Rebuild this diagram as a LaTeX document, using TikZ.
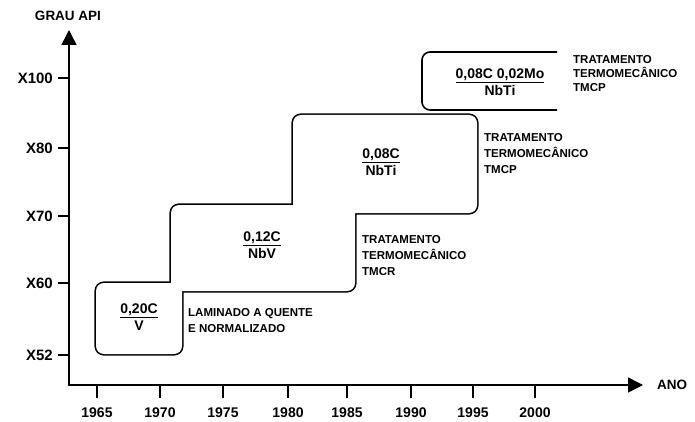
\documentclass[tikz,border=0pt]{standalone}
\usepackage{fontspec}
\setmainfont{Liberation Sans}
\usetikzlibrary{arrows.meta}
\tikzset{
  axisline/.style={line width=1.5pt, {Triangle[length=15pt,width=15pt]}-{Triangle[length=15pt,width=15pt]}},
  tickline/.style={line width=1.5pt},
  boxouter/.style={line width=3.2pt, rounded corners=8pt},
  boxfill/.style={fill=white, rounded corners=8pt},
  openbox/.style={line width=1.6pt, rounded corners=8pt},
  axlab/.style={inner sep=0pt, font=\fontsize{15}{17}\selectfont\bfseries},
  yearlab/.style={inner sep=0pt, font=\fontsize{14}{16}\selectfont\bfseries},
  boxtxt/.style={inner sep=0pt, align=center, font=\fontsize{14}{17}\selectfont\bfseries},
  sidetxt/.style={inner sep=0pt, anchor=west, align=left, font=\fontsize{11.5}{16}\selectfont\bfseries},
  sidetxtb/.style={inner sep=0pt, anchor=west, align=left, font=\fontsize{11.5}{14}\selectfont\bfseries},
}
\begin{document}
\begin{tikzpicture}[x=1pt,y=-1pt]
\useasboundingbox (0,0) rectangle (695,422);
% axes
\coordinate (o) at (69,385);
\coordinate (ytip) at (69,30);
\coordinate (xtip) at (643,385);
\draw[axisline] (ytip) -- (o) -- (xtip);
\node[axlab, font=\fontsize{13.5}{16}\selectfont\bfseries] (grau) at (68,16) {GRAU API};
\node[axlab, anchor=west, font=\fontsize{13.5}{16}\selectfont\bfseries] (ano) at (657,385) {ANO};
% y ticks
\foreach \yy/\lab/\nm in {78/X100/ya, 148/X80/yb, 216/X70/yc, 283/X60/yd, 355/X52/ye}{
  \coordinate (\nm) at (69,\yy);
  \draw[tickline] (\nm) -- ++(-11,0);
  \node[axlab, anchor=east] (\nm l) at (53,\yy) {\lab};
}
% x ticks
\foreach \xx/\lab/\nm in {97/1965/xa, 160/1970/xb, 223/1975/xc, 288/1980/xd, 347/1985/xe, 411/1990/xf, 473/1995/xg, 535/2000/xh}{
  \coordinate (\nm) at (\xx,385);
  \draw[tickline] (\nm) -- ++(0,13);
  \node[yearlab] (\nm l) at (\xx,413) {\lab};
}
% boxes (union outlines)
\coordinate (b1a) at (96,283);  \coordinate (b1b) at (182,354);
\coordinate (b2a) at (171,205); \coordinate (b2b) at (355,291);
\coordinate (b3a) at (293,115); \coordinate (b3b) at (477,213);
\draw[boxouter] (b1a) rectangle (b1b);
\draw[boxouter] (b2a) rectangle (b2b);
\draw[boxouter] (b3a) rectangle (b3b);
\fill[boxfill] (b1a) rectangle (b1b);
\fill[boxfill] (b2a) rectangle (b2b);
\fill[boxfill] (b3a) rectangle (b3b);
% open box
\coordinate (b4a) at (557,52);
\coordinate (b4b) at (422,52);
\coordinate (b4c) at (422,110);
\coordinate (b4d) at (557,110);
\draw[openbox] (b4a) -- (b4b) -- (b4c) -- (b4d);
% box texts
\node[boxtxt] (t1) at (139,317) {\underline{0,20C}\\V};
\node[boxtxt] (t2) at (262,245) {\underline{0,12C}\\NbV};
\node[boxtxt] (t3) at (381,162) {\underline{0,08C}\\NbTi};
\node[boxtxt] (t4) at (500,82) {\underline{0,08C 0,02Mo}\\NbTi};
% side labels
\node[sidetxt] (s1) at (188,321) {LAMINADO A QUENTE\\E NORMALIZADO};
\node[sidetxt] (s2) at (362,256) {TRATAMENTO\\TERMOMECÂNICO\\TMCR};
\node[sidetxt] (s3) at (484,154) {TRATAMENTO\\TERMOMECÂNICO\\TMCP};
\node[sidetxtb] (s4) at (573,74) {TRATAMENTO\\TERMOMECÂNICO\\TMCP};
\end{tikzpicture}
\end{document}
